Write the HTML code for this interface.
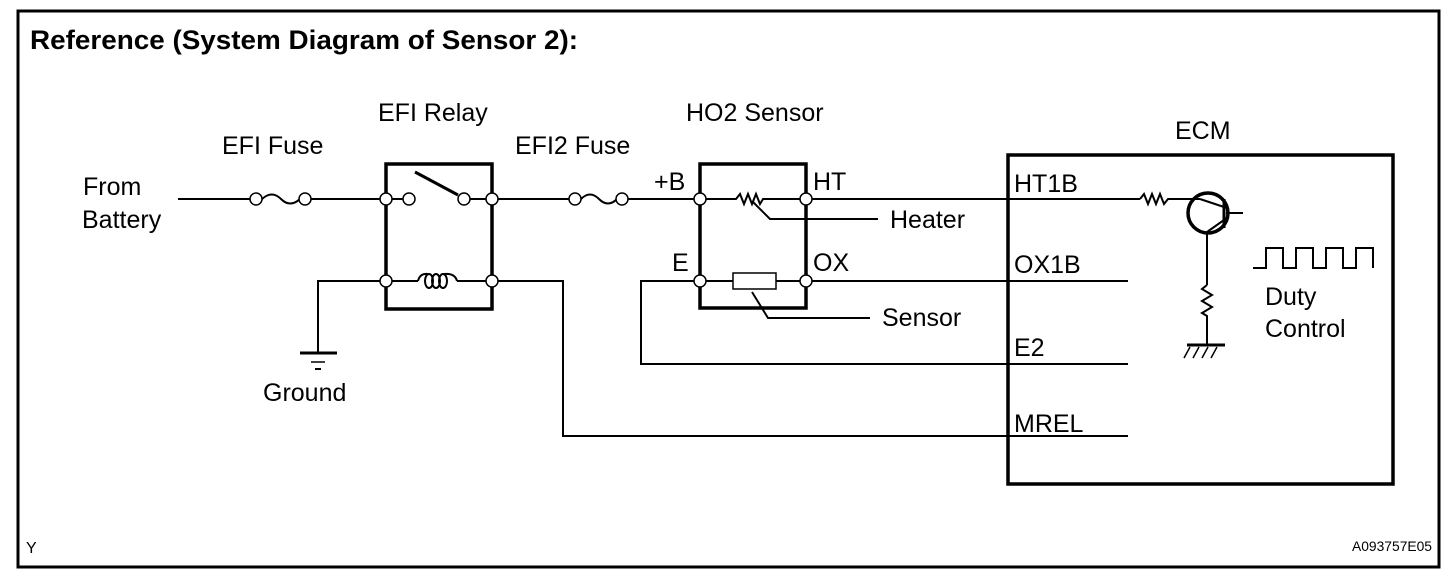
<!DOCTYPE html>
<html><head><style>
body{margin:0;background:#fff;}
svg text{font-family:"Liberation Sans",sans-serif;fill:#000;}
</style></head><body>
<svg width="1456" height="580" viewBox="0 0 1456 580" xmlns="http://www.w3.org/2000/svg">
<rect x="18" y="11" width="1421" height="556" fill="none" stroke="#000" stroke-width="3"/>
<text x="30" y="49" font-size="27" font-weight="bold" textLength="548" lengthAdjust="spacingAndGlyphs">Reference (System Diagram of Sensor 2):</text>
<g font-size="25">
<text x="83" y="195">From</text><text x="82" y="228">Battery</text>
<text x="222" y="154">EFI Fuse</text>
<text x="378" y="121">EFI Relay</text>
<text x="515" y="154">EFI2 Fuse</text>
<text x="686" y="121">HO2 Sensor</text>
<text x="654" y="190">+B</text>
<text x="813" y="190">HT</text>
<text x="672" y="271">E</text>
<text x="813" y="271">OX</text>
<text x="890" y="228">Heater</text>
<text x="882" y="326">Sensor</text>
<text x="263" y="401">Ground</text>
<text x="1175" y="139">ECM</text>
<text x="1014" y="192">HT1B</text>
<text x="1014" y="273">OX1B</text>
<text x="1014" y="356">E2</text>
<text x="1014" y="432">MREL</text>
<text x="1265" y="305">Duty</text>
<text x="1265" y="337">Control</text>
</g>
<text x="26" y="553" font-size="16">Y</text>
<text x="1352" y="551" font-size="14" textLength="80" lengthAdjust="spacingAndGlyphs">A093757E05</text>
<g fill="none" stroke="#000" stroke-width="2">
<line x1="178" y1="199" x2="250" y2="199"/>
<path d="M262 199 Q272 190 281 199 T300 199"/>
<line x1="311" y1="199" x2="380" y2="199"/>
<line x1="392" y1="199" x2="403" y2="199"/>
<line x1="470" y1="199" x2="486" y2="199"/>
<line x1="498" y1="199" x2="569" y2="199"/>
<path d="M581 199 Q590 190 599 199 T617 199"/>
<line x1="628" y1="199" x2="694" y2="199"/>
<polyline points="706,199 736,199 740,194 744,204 748,194 752,204 756,194 760,204 763,199 800,199"/>
<polyline points="753,202 770,219 878,219"/>
<line x1="812" y1="199" x2="1140" y2="199"/>
<polyline points="1140,199 1144,194 1148,204 1152,194 1156,204 1160,194 1164,204 1168,199 1200,199"/>
<polyline points="380,281 318,281 318,353"/>
<line x1="392" y1="281" x2="418" y2="281"/>
<path d="M418 281 Q420 273 428 274"/>
<ellipse cx="429" cy="281" rx="4" ry="7"/>
<ellipse cx="436" cy="281" rx="4" ry="7"/>
<ellipse cx="443" cy="281" rx="4" ry="7"/>
<path d="M444 274 Q455 273 457 281"/>
<line x1="457" y1="281" x2="486" y2="281"/>
<polyline points="498,281 563,281 563,436 1128,436"/>
<polyline points="694,281 641,281 641,364 1128,364"/>
<line x1="706" y1="281" x2="733" y2="281"/>
<line x1="776" y1="281" x2="800" y2="281"/>
<line x1="812" y1="281" x2="1128" y2="281"/>
<polyline points="752,292 768,318 870,318"/>
<line x1="1207" y1="232" x2="1207" y2="285"/>
<polyline points="1207,285 1202,289 1212,295 1202,301 1212,307 1202,313 1207,316 1207,345"/>
<line x1="1226" y1="213" x2="1243" y2="213"/>
<polyline points="1253,268 1266,268 1266,248 1283,248 1283,268 1296,268 1296,248 1313,248 1313,268 1326,268 1326,248 1343,248 1343,268 1356,268 1356,248 1373,248 1373,268"/>
<line x1="1200" y1="199" x2="1224" y2="207"/>
<line x1="1224" y1="220" x2="1207" y2="232"/>
</g>
<g stroke="#000" fill="none">
<line x1="415" y1="172" x2="458" y2="195" stroke-width="3"/>
<rect x="386" y="164" width="106" height="145" stroke-width="3.5"/>
<rect x="700" y="164" width="106" height="144" stroke-width="3.5"/>
<rect x="1008" y="155" width="385" height="329" stroke-width="3.5"/>
<circle cx="1208" cy="213" r="20" stroke-width="3.5"/>
<line x1="1224" y1="199" x2="1224" y2="228" stroke-width="3"/>
<line x1="300" y1="353" x2="337" y2="353" stroke-width="3"/>
<line x1="311" y1="362" x2="325" y2="362" stroke-width="1.5"/>
<line x1="315" y1="369" x2="321" y2="369" stroke-width="2"/>
<line x1="1187" y1="345" x2="1225" y2="345" stroke-width="3"/>
<g stroke-width="1.5"><line x1="1190" y1="347" x2="1184" y2="358"/><line x1="1199" y1="347" x2="1193" y2="358"/><line x1="1208" y1="347" x2="1202" y2="358"/><line x1="1217" y1="347" x2="1211" y2="358"/></g>
<rect x="733" y="273" width="43" height="16" stroke-width="1.5" fill="#fff"/>
</g>
<g fill="#fff" stroke="#000" stroke-width="1.5">
<circle cx="256" cy="199" r="6"/><circle cx="305" cy="199" r="6"/>
<circle cx="386" cy="199" r="6"/><circle cx="409" cy="199" r="6"/>
<circle cx="464" cy="199" r="6"/><circle cx="492" cy="199" r="6"/>
<circle cx="386" cy="281" r="6"/><circle cx="492" cy="281" r="6"/>
<circle cx="575" cy="199" r="6"/><circle cx="622" cy="199" r="6"/>
<circle cx="700" cy="199" r="6"/><circle cx="806" cy="199" r="6"/>
<circle cx="700" cy="281" r="6"/><circle cx="806" cy="281" r="6"/>
</g>
</svg>
</body></html>
